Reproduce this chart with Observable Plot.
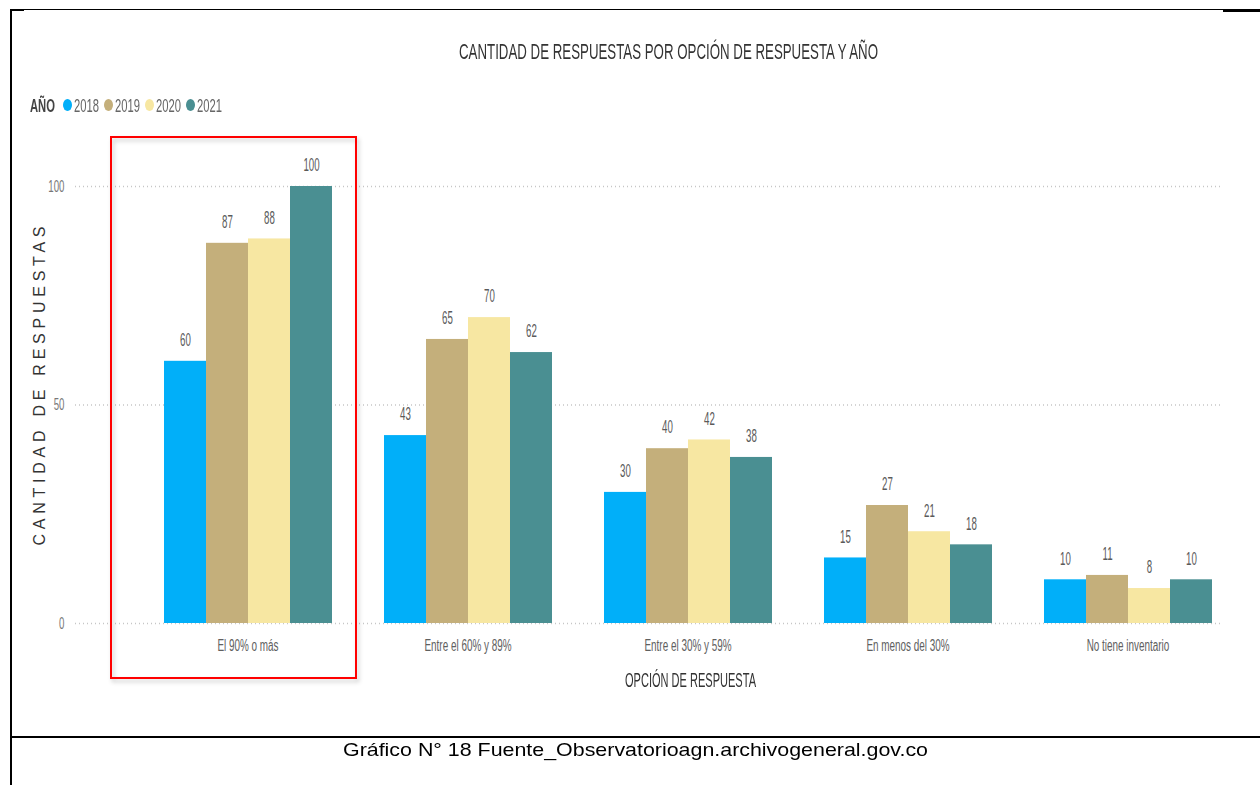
<!DOCTYPE html>
<html><head><meta charset="utf-8">
<script src="https://cdn.jsdelivr.net/npm/d3@7"></script>
<script src="https://cdn.jsdelivr.net/npm/@observablehq/plot@0.6"></script>
<style>
html,body{margin:0;padding:0;background:#fff;}
#page{position:relative;width:1260px;height:785px;overflow:hidden;font-family:"Liberation Sans",Arial,sans-serif;}
.t{position:absolute;white-space:nowrap;line-height:1;font-weight:normal;}
.ln{position:absolute;background:#000;}
#page svg{position:absolute;left:0;top:0;}
</style></head><body><div id="page"></div>
<script>
// ---- data ----
const categories = ["El 90% o más", "Entre el 60% y 89%", "Entre el 30% y 59%", "En menos del 30%", "No tiene inventario"];
const years = ["2018", "2019", "2020", "2021"];
const v2018 = [60, 43, 30, 15, 10];
const v2019 = [87, 65, 40, 27, 11];
const v2020 = [88, 70, 42, 21, 8];
const v2021 = [100, 62, 38, 18, 10];
const yTicks = [0, 50, 100];
const colors = ["#01AFF9", "#C4AF7B", "#F7E7A2", "#4A8F92"];
const highlighted = ["El 90% o más"];
const titleText = "CANTIDAD DE RESPUESTAS POR OPCIÓN DE RESPUESTA Y AÑO";
const legendTitle = "AÑO";
const xTitle = "OPCIÓN DE RESPUESTA";
const yTitle = "CANTIDAD DE RESPUESTAS";
const captionText = "Gráfico N° 18 Fuente_Observatorioagn.archivogeneral.gov.co";

const series = [v2018, v2019, v2020, v2021];
const data = categories.flatMap((c, i) => years.map((y, j) => ({category: c, year: y, value: series[j][i]})));

const page = document.getElementById("page");
const W = 1260, H = 700;
const M = {marginTop: 186, marginBottom: 77, marginLeft: 75, marginRight: 38};
const FONT = "Liberation Sans, Arial, sans-serif";

// ---- page frame lines ----
function line(l, t, w, h) {
  const d = document.createElement("div");
  d.className = "ln";
  Object.assign(d.style, {left: l + "px", top: t + "px", width: w + "px", height: h + "px"});
  page.appendChild(d);
}
line(10, 9, 2, 776);
line(10, 9, 1213, 1);
line(10, 9, 14, 2);
line(1223, 9, 37, 3);
line(10, 736, 1250, 2);

// ---- background: grid + y tick labels ----
const bg = Plot.plot({
  width: W, height: H, ...M,
  style: {background: "transparent", fontFamily: FONT},
  y: {domain: [0, 100], axis: null},
  marks: [
    Plot.ruleY(yTicks, {stroke: "#c6c6c6", strokeWidth: 1.5, strokeDasharray: "1,3"}),
    Plot.text(yTicks, {y: d => d, text: d => String(d), frameAnchor: "left", textAnchor: "end", dx: -11, fontSize: 17, fill: "#777"})
  ]
});
page.appendChild(bg);

// ---- foreground: grouped bars ----
const fg = Plot.plot({
  width: W, height: H, ...M,
  style: {background: "transparent", fontFamily: FONT},
  fx: {domain: categories, paddingInner: 0.2227, paddingOuter: 0.218, align: 0.906, label: null},
  x: {domain: years, padding: 0, axis: null},
  y: {domain: [0, 100], axis: null},
  color: {domain: years, range: colors},
  marks: [
    Plot.barY(data, {fx: "category", x: "year", y: "value", fill: "year"}),
    Plot.text(data, {fx: "category", x: "year", y: "value", text: d => String(d.value), dy: -21, fontSize: 18, fill: "#5a5a5a"}),
    Plot.axisFx({anchor: "bottom", tickSize: 0, tickPadding: 16, fontSize: 16, color: "#606060", label: null}),
    Plot.rect(highlighted, {fx: d => d, fill: "none", stroke: "#f00", strokeWidth: 2, insetLeft: -51, insetRight: -23, insetTop: -49, insetBottom: -55})
  ]
});
page.appendChild(fg);

// condense svg texts horizontally around their anchor
function squeeze(root, sel, s) {
  root.querySelectorAll(sel).forEach(t => {
    let tr = t.getAttribute("transform") || "";
    const x = t.getAttribute("x");
    if (x != null && parseFloat(x)) {
      tr += ` translate(${parseFloat(x)},0)`;
      t.removeAttribute("x");
    }
    t.setAttribute("transform", `${tr} scale(${s},1)`);
  });
}
squeeze(bg, 'g[aria-label="text"] text', 0.57);
squeeze(fg, 'g[aria-label="text"] text', 0.54);
squeeze(fg, 'g[aria-label^="fx-axis"] text', 0.62);
fg.querySelectorAll('g[aria-label="rect"] rect').forEach(r => {
  r.style.filter = "drop-shadow(2px 3px 2px rgba(0,0,0,0.22))";
});

// ---- html texts ----
function label(txt, o) {
  const el = document.createElement("div");
  el.className = "t";
  el.textContent = txt;
  el.style.fontSize = o.size + "px";
  el.style.color = o.color;
  if (o.weight) el.style.fontWeight = o.weight;
  page.appendChild(el);
  const w = el.getBoundingClientRect().width;
  const s = o.w / w;
  const left = o.cx != null ? o.cx - o.w / 2 : o.left;
  el.style.left = left + "px";
  el.style.top = (o.cy - 0.49 * o.size) + "px";
  el.style.transformOrigin = "0 0";
  el.style.transform = `scaleX(${s})`;
  return el;
}

label(titleText, {size: 22, w: 419, cx: 668.5, cy: 52, color: "#333"});
label(xTitle, {size: 20, w: 131, cx: 690.5, cy: 680, color: "#333"});
label(captionText, {size: 18.5, w: 585, cx: 635.5, cy: 750, color: "#000"});

// legend
label(legendTitle, {size: 19, w: 25, left: 30, cy: 105, color: "#444", weight: "bold"});
years.forEach((yr, i) => {
  const x = 63 + i * 41;
  const dot = document.createElement("div");
  Object.assign(dot.style, {position: "absolute", left: x + "px", top: (105 - 6) + "px", width: "9px", height: "12px", borderRadius: "50%", background: colors[i]});
  page.appendChild(dot);
  label(yr, {size: 19, w: 25, left: x + 11, cy: 105, color: "#666"});
});

// y title (rotated, letter-spaced)
(function () {
  const el = document.createElement("div");
  el.className = "t";
  el.textContent = yTitle;
  el.style.fontSize = "16px";
  el.style.color = "#333";
  page.appendChild(el);
  const w0 = el.getBoundingClientRect().width;
  const n = yTitle.length;
  const sp = (319 - w0) / (n - 1);
  el.style.letterSpacing = sp + "px";
  const w = el.getBoundingClientRect().width;
  el.style.left = (39 - w / 2 + sp / 2) + "px";
  el.style.top = (385.5 - 8) + "px";
  el.style.transformOrigin = `${w / 2 - sp / 2}px 8px`;
  el.style.transform = "rotate(-90deg)";
})();
</script>
</body></html>
